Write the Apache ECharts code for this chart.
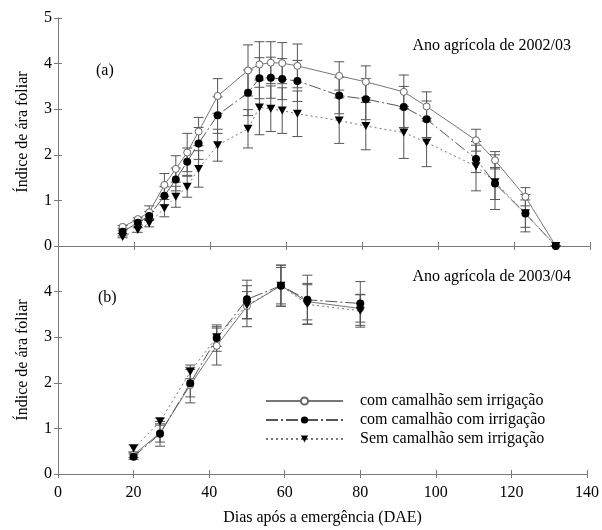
<!DOCTYPE html>
<html>
<head>
<meta charset="utf-8">
<script src="https://cdn.jsdelivr.net/npm/echarts@6/dist/echarts.min.js"></script>
<style>html,body{margin:0;padding:0;background:#fff}#c{width:602px;height:530px}</style>
</head>
<body>
<div id="c"></div>
<script>
// ---- Data ----
var seriesNames = ['com camalhão sem irrigação', 'com camalhão com irrigação', 'Sem camalhão sem irrigação'];
var xTicks = [0, 20, 40, 60, 80, 100, 120, 140];

// Panel (a) 2002/03
var daysA = [17, 21, 24, 28, 31, 34, 37, 42, 50, 53, 56, 59, 63, 74, 81, 91, 97, 110, 115, 123, 131];
var openA = [0.42, 0.59, 0.74, 1.34, 1.69, 2.05, 2.51, 3.29, 3.85, 3.98, 4.02, 4.01, 3.95, 3.73, 3.60, 3.38, 3.06, 2.32, 1.88, 1.08, 0];
var filledA = [0.31, 0.51, 0.66, 1.10, 1.46, 1.85, 2.25, 2.87, 3.36, 3.68, 3.69, 3.66, 3.62, 3.30, 3.22, 3.05, 2.78, 1.91, 1.37, 0.71, 0];
var triA = [0.20, 0.35, 0.50, 0.83, 1.08, 1.30, 1.69, 2.21, 2.57, 3.04, 3.01, 2.97, 2.90, 2.75, 2.63, 2.49, 2.27, 1.75, 1.40, 0.72, 0];
var openErrA = [0.03, 0.03, 0.14, 0.25, 0.29, 0.42, 0.31, 0.38, 0.56, 0.50, 0.46, 0.45, 0.48, 0.31, 0.35, 0.37, 0.32, 0.24, 0.19, 0.20, 0];
var filledErrA = [0.04, 0.05, 0.10, 0.20, 0.25, 0.30, 0.35, 0.40, 0.50, 0.45, 0.45, 0.45, 0.45, 0.40, 0.45, 0.45, 0.40, 0.30, 0.35, 0.30, 0];
var triErrA = [0.02, 0.05, 0.08, 0.19, 0.23, 0.23, 0.40, 0.35, 0.42, 0.60, 0.50, 0.50, 0.50, 0.50, 0.52, 0.57, 0.53, 0.54, 0.60, 0.41, 0];

// Panel (b) 2003/04
var daysB = [20, 27, 35, 42, 50, 59, 66, 80];
var openB = [0.42, 0.90, 1.95, 2.81, 3.68, 4.13, 3.78, 3.63];
var filledB = [0.38, 0.88, 1.99, 2.98, 3.83, 4.13, 3.82, 3.74];
var triB = [0.56, 1.15, 2.24, 3.00, 3.70, 4.13, 3.72, 3.58];
var openErrB = [0.06, 0.20, 0.39, 0.42, 0.45, 0.45, 0.40, 0.30];
var filledErrB = [0.06, 0.27, 0.30, 0.29, 0.42, 0.45, 0.54, 0.48];
var triErrB = [0.08, 0.08, 0.15, 0.20, 0.30, 0.40, 0.43, 0.36];

// ---- Chart ----
var FONT = 'Liberation Serif';
var FS = 16;
var AX = '#7a7a7a';
var downTri = 'path://M0,0 L10,0 L5,10 Z';

function pairs(d, v) { return d.map(function (x, i) { return [x, v[i]]; }); }
function errData(d, v, e) { return d.map(function (x, i) { return [x, v[i] - e[i], v[i] + e[i]]; }); }

function errSeries(d, v, e, gi) {
  return {
    type: 'custom', xAxisIndex: gi * 2, yAxisIndex: gi * 2, silent: true, z: 1,
    data: errData(d, v, e),
    renderItem: function (params, api) {
      var lo = api.coord([api.value(0), api.value(1)]);
      var hi = api.coord([api.value(0), api.value(2)]);
      var w = 5;
      var st = { stroke: '#555', lineWidth: 1 };
      return {
        type: 'group', children: [
          { type: 'line', shape: { x1: lo[0], y1: lo[1], x2: hi[0], y2: hi[1] }, style: st },
          { type: 'line', shape: { x1: lo[0] - w, y1: lo[1], x2: lo[0] + w, y2: lo[1] }, style: st },
          { type: 'line', shape: { x1: hi[0] - w, y1: hi[1], x2: hi[0] + w, y2: hi[1] }, style: st }
        ]
      };
    }
  };
}

var styles = [
  { symbol: 'circle', symbolSize: 7, itemStyle: { color: '#fff', borderColor: '#666', borderWidth: 1 }, lineStyle: { color: '#777', width: 1, type: 'solid' } },
  { symbol: 'circle', symbolSize: 8, itemStyle: { color: '#000', borderColor: '#000', borderWidth: 0 }, lineStyle: { color: '#555', width: 1, type: [12, 3, 2, 3] } },
  { symbol: downTri, symbolSize: [9, 8], itemStyle: { color: '#000', borderColor: '#000', borderWidth: 0 }, lineStyle: { color: '#777', width: 1, type: [2, 3] } }
];

function lineSeries(idx, d, v, gi) {
  var s = styles[idx];
  return {
    name: seriesNames[idx], type: 'line', xAxisIndex: gi * 2, yAxisIndex: gi * 2,
    data: pairs(d, v), symbol: s.symbol, symbolSize: s.symbolSize, showAllSymbol: true,
    itemStyle: s.itemStyle, lineStyle: s.lineStyle, z: 3, animation: false
  };
}

function xAx(gi, pos, labels) {
  return {
    type: 'value', gridIndex: gi, position: pos, min: 0, max: 140, interval: 20,
    axisLine: { show: true, lineStyle: { color: AX, width: 1 } },
    axisTick: { show: true, inside: true, length: 4, lineStyle: { color: AX } },
    axisLabel: { show: labels, margin: 11, fontFamily: FONT, fontSize: FS, color: '#000' },
    splitLine: { show: false },
    name: labels ? 'Dias após a emergência (DAE)' : '', nameLocation: 'middle', nameGap: 36,
    nameTextStyle: { fontFamily: FONT, fontSize: FS, color: '#000' }
  };
}
function yAx(gi, pos, labels, hideTop) {
  return {
    type: 'value', gridIndex: gi, position: pos, min: 0, max: 5, interval: 1,
    axisLine: { show: true, lineStyle: { color: AX, width: 1 } },
    axisTick: { show: true, inside: true, length: 4, lineStyle: { color: AX } },
    axisLabel: {
      show: labels, margin: 6, fontFamily: FONT, fontSize: FS, color: '#000',
      formatter: function (v) { return (hideTop && v === 5) ? '' : String(v); }
    },
    splitLine: { show: false },
    name: labels ? 'Índice de ára foliar' : '', nameLocation: 'middle', nameGap: 27,
    nameTextStyle: { fontFamily: FONT, fontSize: FS, color: '#000' }
  };
}

var chart = echarts.init(document.getElementById('c'), null, { renderer: 'canvas' });
chart.setOption({
  animation: false,
  backgroundColor: '#fff',
  grid: [
    { left: 58, right: 12, top: 18, height: 228 },
    { left: 58, right: 12, top: 246, height: 228 }
  ],
  xAxis: [xAx(0, 'bottom', false), xAx(0, 'top', false), xAx(1, 'bottom', true), xAx(1, 'top', false)],
  yAxis: [yAx(0, 'left', true, false), yAx(0, 'right', false, false), yAx(1, 'left', true, true), yAx(1, 'right', false, false)],
  legend: {
    data: seriesNames, orient: 'vertical', left: 260, top: 388, itemWidth: 77, itemHeight: 9, itemGap: 3,
    textStyle: { fontFamily: FONT, fontSize: FS, color: '#000', padding: [0, 0, 0, 12] }
  },
  graphic: [
    { type: 'text', left: 96, top: 63, style: { text: '(a)', font: '16px "Liberation Serif"', fill: '#000' } },
    { type: 'text', right: 31, top: 38, style: { text: 'Ano agrícola de 2002/03', font: '16px "Liberation Serif"', fill: '#000' } },
    { type: 'text', left: 98, top: 290, style: { text: '(b)', font: '16px "Liberation Serif"', fill: '#000' } },
    { type: 'text', right: 31, top: 269, style: { text: 'Ano agrícola de 2003/04', font: '16px "Liberation Serif"', fill: '#000' } }
  ],
  series: [
    errSeries(daysA, openA, openErrA, 0),
    errSeries(daysA, filledA, filledErrA, 0),
    errSeries(daysA, triA, triErrA, 0),
    errSeries(daysB, openB, openErrB, 1),
    errSeries(daysB, filledB, filledErrB, 1),
    errSeries(daysB, triB, triErrB, 1),
    lineSeries(0, daysA, openA, 0),
    lineSeries(1, daysA, filledA, 0),
    lineSeries(2, daysA, triA, 0),
    lineSeries(0, daysB, openB, 1),
    lineSeries(1, daysB, filledB, 1),
    lineSeries(2, daysB, triB, 1)
  ]
});
</script>
</body>
</html>
